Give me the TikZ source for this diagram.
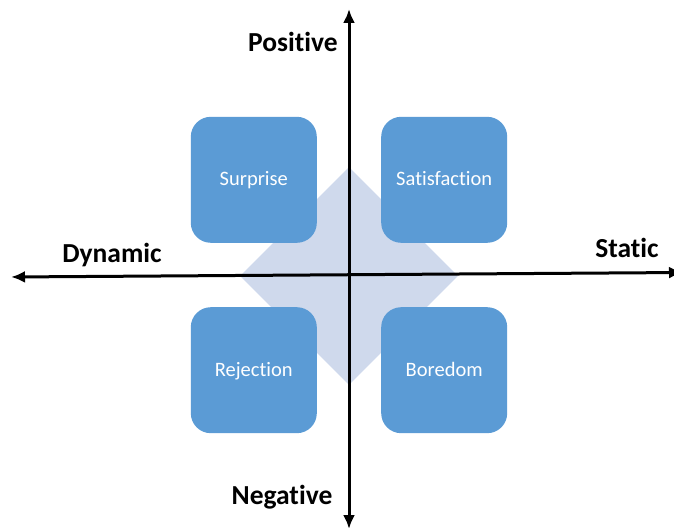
\documentclass[tikz,border=0pt]{standalone}
\usepackage{fontspec}
\setmainfont{Carlito}[Ligatures=NoCommon]
\usetikzlibrary{positioning,shapes.geometric,arrows.meta}

\definecolor{boxblue}{RGB}{91,155,213}
\definecolor{backblue}{RGB}{207,217,236}

\tikzstyle{box} = [rectangle, rounded corners=20pt, minimum width=126pt, minimum height=126pt, fill=boxblue, text=white, text height=14pt, text depth=2pt, font=\fontsize{20.5}{24}\selectfont]
\tikzstyle{back} = [diamond, fill=backblue, minimum width=218pt, minimum height=218pt, inner sep=0pt]
\tikzstyle{axis} = [line width=3pt, {Latex[length=14pt,width=12pt]}-{Latex[length=14pt,width=12pt]}]
\tikzstyle{axlabel} = [font=\fontsize{27.5}{32}\selectfont\bfseries, anchor=base, inner sep=0pt]
\tikzstyle{axisend} = [coordinate]

\begin{document}
\begin{tikzpicture}[x=1pt,y=-1pt]
\useasboundingbox (0,0) rectangle (674,527);
\coordinate (o) at (349,275);
\node[axisend] (ptop) at (349,9) {};
\node[axisend] (pbot) at (349,529) {};
\node[axisend] (pleft) at (11,277) {};
\node[axisend] (pright) at (683,272.5) {};

% background diamond
\node[back] (bg) at (349,276) {};

\draw[axis] (pleft) -- (pright);
\draw[axis] (pbot) -- (ptop);

\node[box, above left=32pt and 32pt of o] (surprise) {Surprise};
\node[box, above right=32pt and 32pt of o] (satisf) {Satisfaction};
\node[box, below left=32pt and 32pt of o] (reject) {Rejection};
\node[box, below right=32pt and 32pt of o] (boredom) {Boredom};

% axis names
\node[axlabel] (positive) at (293,52) {Positive};
\node[axlabel] (negative) at (282,504) {Negative};
\node[axlabel] (dynamic) at (112,262) {Dynamic};
\node[axlabel] (static) at (627,257) {Static};

\end{tikzpicture}
\end{document}
